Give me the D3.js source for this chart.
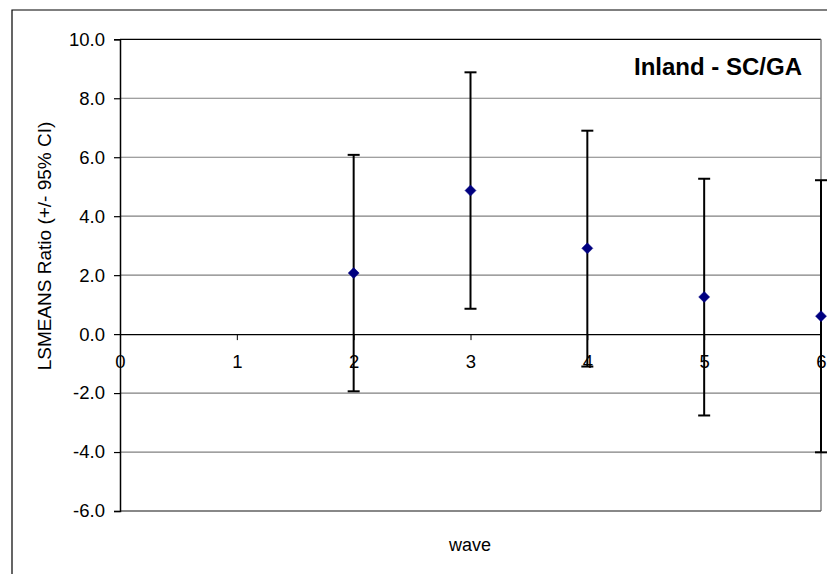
<!DOCTYPE html>
<html>
<head>
<meta charset="utf-8">
<script src="https://cdn.jsdelivr.net/npm/d3@7"></script>
<style>
  html, body { margin: 0; padding: 0; background: #fff; }
  svg { display: block; font-family: "Liberation Sans", Arial, sans-serif; }
</style>
</head>
<body>
<svg id="chart" width="827" height="574"></svg>
<script>
// LSMEANS ratio by wave with 95% confidence limits
const waves = [2, 3, 4, 5, 6];
const lsmeans = [2.07, 4.87, 2.91, 1.26, 0.61];
const upperCI = [6.08, 8.88, 6.90, 5.27, 5.22];
const lowerCI = [-1.94, 0.86, -1.10, -2.76, -4.01];

const xTicks = [0, 1, 2, 3, 4, 5, 6];
const yTicks = [-6, -4, -2, 0, 2, 4, 6, 8, 10];

const chartTitle = "Inland - SC/GA";
const xLabel = "wave";
const yLabel = "LSMEANS Ratio (+/- 95% CI)";

const rows = waves.map((w, i) => ({ wave: w, mean: lsmeans[i], hi: upperCI[i], lo: lowerCI[i] }));

const svg = d3.select("#chart");
const plot = { left: 120, right: 821, top: 39.3, bottom: 511 };

const x = d3.scaleLinear().domain([0, 6]).range([plot.left, plot.right]);
const y = d3.scaleLinear().domain([-6, 10]).range([plot.bottom, plot.top]);

// plain hyphen-minus for negative tick labels
const fmt1 = d => d3.format(".1f")(d).replace("\u2212", "-");

// outer chart frame (left and top edges visible)
svg.append("path")
  .attr("d", `M12,574 V10 H827`)
  .attr("fill", "none").attr("stroke", "#000").attr("stroke-width", 1.2);

// horizontal gridlines
svg.append("g").selectAll("line").data(yTicks.filter(t => t !== 0 && t !== 10 && t !== -6)).join("line")
  .attr("x1", plot.left).attr("x2", plot.right)
  .attr("y1", d => y(d)).attr("y2", d => y(d))
  .attr("stroke", "#808080").attr("stroke-width", 1.2);

// plot area frame: top black, right and bottom grey
svg.append("line").attr("x1", plot.left).attr("x2", plot.right)
  .attr("y1", y(10)).attr("y2", y(10)).attr("stroke", "#000").attr("stroke-width", 1.2);
svg.append("line").attr("x1", plot.right).attr("x2", plot.right)
  .attr("y1", y(10)).attr("y2", y(-6)).attr("stroke", "#808080").attr("stroke-width", 1.5);
svg.append("line").attr("x1", plot.left).attr("x2", plot.right)
  .attr("y1", y(-6)).attr("y2", y(-6)).attr("stroke", "#606060").attr("stroke-width", 1.5);

// y axis
const yAxis = d3.axisLeft(y).tickValues(yTicks).tickFormat(fmt1).tickSize(6).tickPadding(9);
const gy = svg.append("g").attr("transform", `translate(${plot.left},0)`).call(yAxis);
gy.select(".domain").attr("stroke", "#000").attr("stroke-width", 1.5);
gy.selectAll(".tick line").attr("stroke", "#000").attr("stroke-width", 1.2);
gy.selectAll(".tick text")
  .attr("fill", "#000").attr("font-size", 18.5)
  .attr("font-family", "Liberation Sans, Arial, sans-serif");

// x axis through zero
const xAxis = d3.axisBottom(x).tickValues(xTicks).tickFormat(d3.format("d")).tickSizeInner(6).tickSizeOuter(0).tickPadding(15);
const gx = svg.append("g").attr("transform", `translate(0,${y(0)})`).call(xAxis);
gx.select(".domain").attr("stroke", "#000").attr("stroke-width", 1.3);
gx.selectAll(".tick line").attr("stroke", "#000").attr("stroke-width", 1);
gx.selectAll(".tick text")
  .attr("fill", "#000").attr("font-size", 18.5)
  .attr("font-family", "Liberation Sans, Arial, sans-serif");

// error bars
const eb = svg.append("g").selectAll("g").data(rows).join("g");
eb.append("line")
  .attr("x1", d => x(d.wave)).attr("x2", d => x(d.wave))
  .attr("y1", d => y(d.hi)).attr("y2", d => y(d.lo))
  .attr("stroke", "#000").attr("stroke-width", 2);
eb.append("line")
  .attr("x1", d => x(d.wave) - 6).attr("x2", d => x(d.wave) + 6)
  .attr("y1", d => y(d.hi)).attr("y2", d => y(d.hi))
  .attr("stroke", "#000").attr("stroke-width", 2);
eb.append("line")
  .attr("x1", d => x(d.wave) - 6).attr("x2", d => x(d.wave) + 6)
  .attr("y1", d => y(d.lo)).attr("y2", d => y(d.lo))
  .attr("stroke", "#000").attr("stroke-width", 2);

// diamond markers
svg.append("g").selectAll("path").data(rows).join("path")
  .attr("d", d => {
    const cx = x(d.wave), cy = y(d.mean), r = 5.5;
    return `M${cx},${cy - r}L${cx + r},${cy}L${cx},${cy + r}L${cx - r},${cy}Z`;
  })
  .attr("fill", "#000080").attr("stroke", "#000080").attr("stroke-width", 0.5);

// labels
svg.append("text")
  .attr("x", 802).attr("y", 75)
  .attr("text-anchor", "end")
  .attr("font-size", 24).attr("font-weight", "bold")
  .attr("fill", "#000")
  .text(chartTitle);

svg.append("text")
  .attr("x", 470).attr("y", 551)
  .attr("text-anchor", "middle")
  .attr("font-size", 18).attr("fill", "#000")
  .text(xLabel);

svg.append("text")
  .attr("transform", `translate(51,${246}) rotate(-90)`)
  .attr("text-anchor", "middle")
  .attr("font-size", 19).attr("fill", "#000")
  .text(yLabel);
</script>
</body>
</html>
